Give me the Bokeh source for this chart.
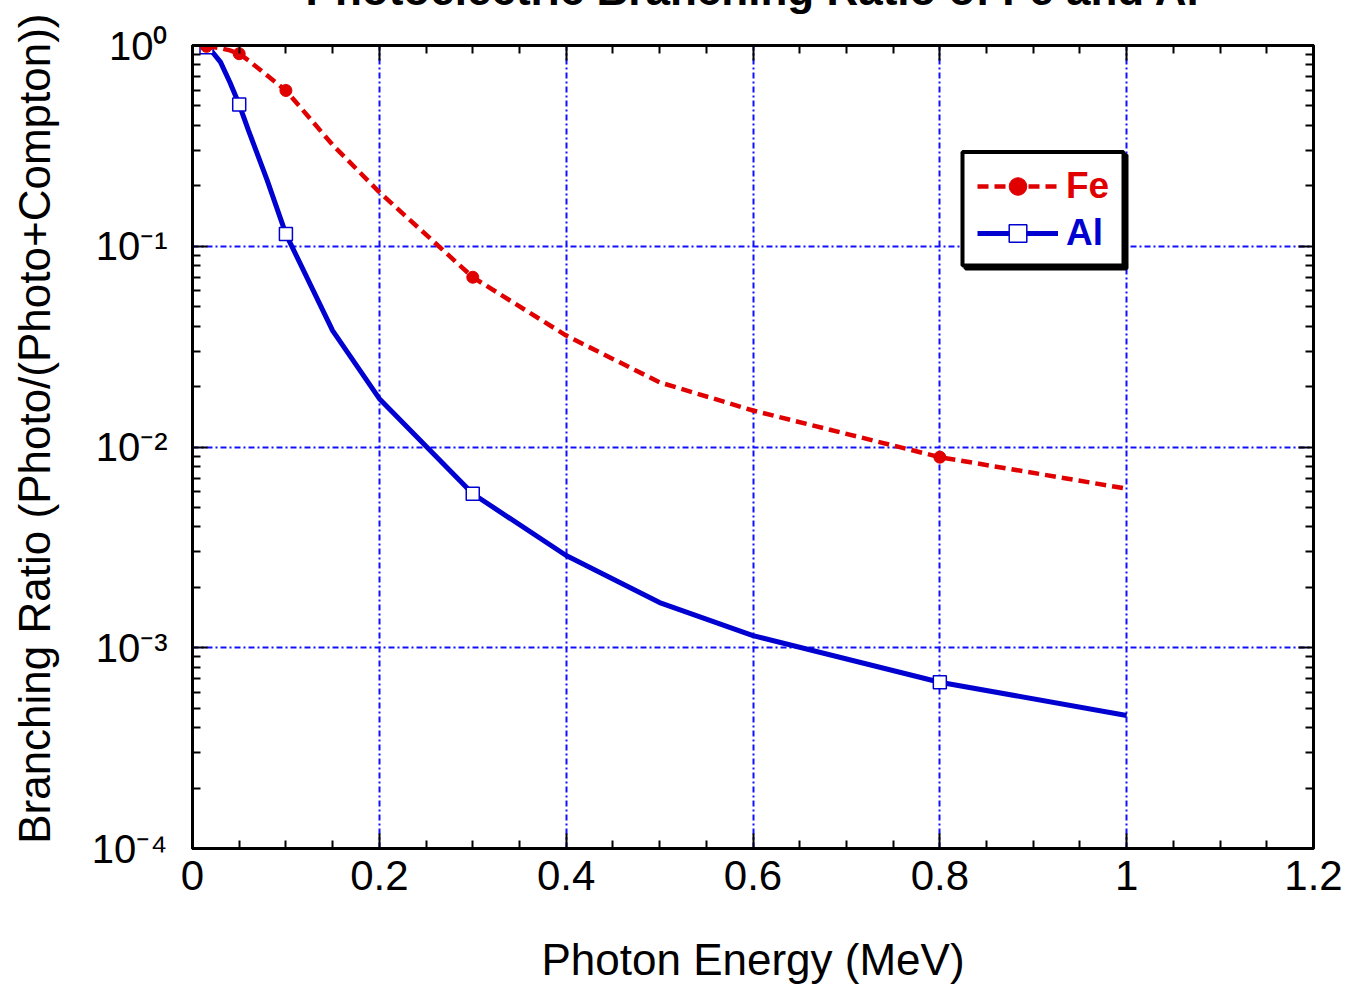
from bokeh.plotting import figure
from bokeh.models import (LinearAxis, LogAxis, FixedTicker, BoxAnnotation, Title,
                          Legend, LegendItem, Range1d, CustomJSTickFormatter)
from bokeh.embed import file_html
from bokeh.resources import INLINE

# ---------------- data ----------------
energy = [0.015, 0.02, 0.03, 0.04, 0.05, 0.06, 0.08, 0.1, 0.15, 0.2, 0.3, 0.4, 0.5, 0.6, 0.8, 1.0]
fe_ratio = [0.99, 0.985, 0.97, 0.945, 0.91, 0.842, 0.709, 0.597, 0.32, 0.186, 0.0701, 0.0359, 0.021, 0.0152, 0.0089, 0.0062]
al_ratio = [0.98, 0.944, 0.826, 0.656, 0.508, 0.377, 0.213, 0.115, 0.038, 0.0174, 0.00585, 0.00288, 0.00168, 0.00115, 0.000673, 0.00046]
marker_energy = [0.015, 0.05, 0.1, 0.3, 0.8]

series_names = ["Fe", "Al"]
x_ticks = [0, 0.2, 0.4, 0.6, 0.8, 1.0, 1.2]
x_tick_labels = ["0", "0.2", "0.4", "0.6", "0.8", "1", "1.2"]
y_ticks = [1e-4, 1e-3, 1e-2, 1e-1, 1.0]
y_tick_labels = ["10\u207b\u2074", "10\u207b\u00b3", "10\u207b\u00b2", "10\u207b\u00b9", "10\u2070"]
title_text = "Photoelectric Branching Ratio of Fe and Al"
x_label = "Photon Energy (MeV)"
y_label = "Branching Ratio (Photo/(Photo+Compton))"

# ---------------- style ----------------
FONT = "Liberation Sans"
RED = "#e00000"
BLUE = "#0000d0"
GRID = "#1010ff"

x_minor = [round(0.05 * i, 2) for i in range(25) if i % 4 != 0]
y_minor = [m * 10.0 ** e for e in range(-4, 0) for m in range(2, 10)]

fe_mk = [fe_ratio[energy.index(e)] for e in marker_energy]
al_mk = [al_ratio[energy.index(e)] for e in marker_energy]

p = figure(width=1345, height=1064, x_range=Range1d(0, 1.2), y_range=Range1d(1e-4, 1),
           y_axis_type="log", output_backend="svg", toolbar_location=None,
           min_border_left=186, min_border_right=38, min_border_top=120, min_border_bottom=141,
           margin=(-75, 0, 0, 6))
p.background_fill_color = "white"
p.border_fill_color = "white"
p.outline_line_color = "black"
p.outline_line_width = 3

xt = FixedTicker(ticks=x_ticks, minor_ticks=x_minor)
yt = FixedTicker(ticks=y_ticks, minor_ticks=y_minor)

def style_axis(ax, show_labels):
    ax.axis_line_width = 3
    ax.axis_line_color = "black"
    ax.major_tick_in = 15
    ax.major_tick_out = 0
    ax.minor_tick_in = 8
    ax.minor_tick_out = 0
    ax.major_tick_line_width = 2
    ax.minor_tick_line_width = 2
    ax.major_tick_line_color = "black"
    ax.minor_tick_line_color = "black"
    if not show_labels:
        ax.formatter = CustomJSTickFormatter(code="return ''")
        ax.major_label_text_font_size = "1px"
        ax.major_label_standoff = 0

xa = p.xaxis[0]
xa.ticker = xt
style_axis(xa, True)
xa.major_label_overrides = {t: l for t, l in zip(x_ticks, x_tick_labels)}
xa.major_label_text_font = FONT
xa.major_label_text_font_size = "42px"
xa.major_label_text_color = "black"
xa.major_label_standoff = 12
xa.axis_label = x_label
xa.axis_label_text_font = FONT
xa.axis_label_text_font_size = "44px"
xa.axis_label_text_font_style = "normal"
xa.axis_label_text_color = "black"
xa.axis_label_standoff = 42

ya = p.yaxis[0]
ya.ticker = yt
style_axis(ya, True)
ya.major_label_overrides = {t: l for t, l in zip(y_ticks, y_tick_labels)}
ya.major_label_text_font = FONT
ya.major_label_text_font_size = "40px"
ya.major_label_text_color = "black"
ya.major_label_standoff = 25
# leading no-break spaces nudge the centred title up, as in the reference
ya.axis_label = "\u00a0\u00a0\u00a0" + y_label
ya.axis_label_text_font = FONT
ya.axis_label_text_font_size = "44px"
ya.axis_label_text_font_style = "normal"
ya.axis_label_text_color = "black"
ya.axis_label_standoff = 30

top_ax = LinearAxis(ticker=xt)
style_axis(top_ax, False)
p.add_layout(top_ax, "above")
right_ax = LogAxis(ticker=yt)
style_axis(right_ax, False)
p.add_layout(right_ax, "right")

p.add_layout(Title(text=title_text, align="center", text_font=FONT, text_font_size="44px",
                   text_font_style="bold", text_color="black", standoff=63), "above")

for g, t in ((p.xgrid[0], xt), (p.ygrid[0], yt)):
    g.ticker = t
    g.grid_line_color = GRID
    g.grid_line_width = 2
    g.grid_line_dash = "6 3 2 3"

# ---------------- data glyphs ----------------
al_line = p.line(energy, al_ratio, line_color=BLUE, line_width=5)
al_pts = p.scatter(marker_energy, al_mk, marker="square", size=13, line_color=BLUE,
                   fill_color="white", line_width=1.5)
fe_line = p.line(energy, fe_ratio, line_color=RED, line_width=4.5, line_dash="11 6")
fe_pts = p.scatter(marker_energy, fe_mk, marker="circle", size=12, color=RED)

# legend frame with shadow (frame-relative screen units)
shadow = BoxAnnotation(left=773, right=934, top=693.5, bottom=580,
                       left_units="screen", right_units="screen",
                       top_units="screen", bottom_units="screen",
                       fill_color="black", fill_alpha=1, line_color="black",
                       line_alpha=1, line_width=4)
box = BoxAnnotation(left=770, right=931, top=696.5, bottom=583,
                    left_units="screen", right_units="screen",
                    top_units="screen", bottom_units="screen",
                    fill_color="white", fill_alpha=1, line_color="black",
                    line_alpha=1, line_width=4)
p.add_layout(shadow)
p.add_layout(box)

def make_legend(name, rends, color, loc):
    lg = Legend(items=[LegendItem(label=name, renderers=rends)], location=loc)
    lg.border_line_color = None
    lg.background_fill_alpha = 0
    lg.padding = 0
    lg.margin = 0
    lg.spacing = 0
    lg.glyph_width = 81
    lg.glyph_height = 44
    lg.label_height = 44
    lg.label_standoff = 8
    lg.label_text_font = FONT
    lg.label_text_font_size = "37px"
    lg.label_text_font_style = "bold"
    lg.label_text_color = color
    p.add_layout(lg, "center")

make_legend(series_names[0], [fe_line, fe_pts], RED, (785, 640))
make_legend(series_names[1], [al_line, al_pts], BLUE, (785, 593))

open("out.html", "w").write(file_html(p, INLINE))
